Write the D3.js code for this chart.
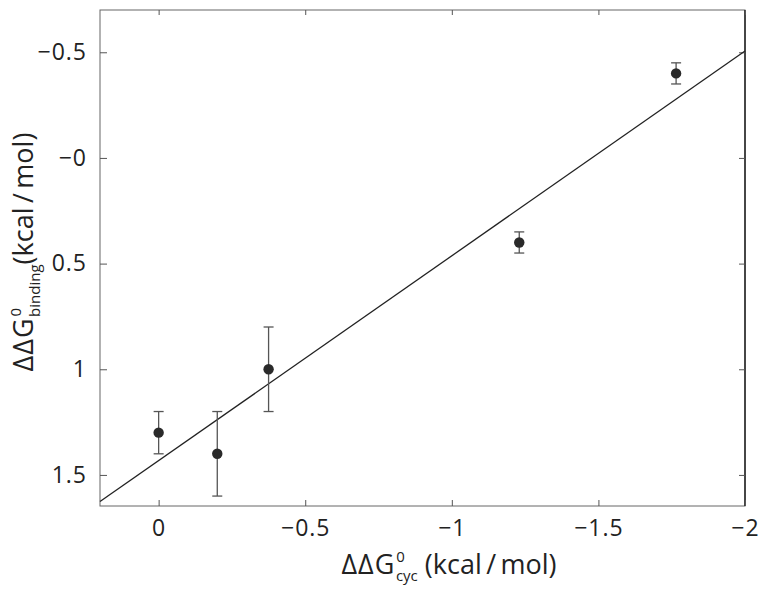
<!DOCTYPE html>
<html>
<head>
<meta charset="utf-8">
<script src="https://cdn.jsdelivr.net/npm/d3@7"></script>
<style>
  body { margin: 0; background: #fff; }
  text { font-family: "Open Sans", "DejaVu Sans", sans-serif; fill: #222; }
</style>
</head>
<body>
<div id="chart"></div>
<script>
// measured values
const xValues = [0, -0.2, -0.375, -1.23, -1.765];
const yValues = [1.3, 1.4, 1.0, 0.4, -0.4];
const yErrLow = [1.2, 1.2, 0.8, 0.35, -0.45];
const yErrHigh = [1.4, 1.6, 1.2, 0.45, -0.35];

// fitted line endpoints
const fitX = [0.2, -2];
const fitY = [1.626, -0.506];

const xTicks = [0, -0.5, -1, -1.5, -2];
const xTickLabels = ["0", "\u22120.5", "\u22121", "\u22121.5", "\u22122"];
const yTicks = [-0.5, 0, 0.5, 1, 1.5];
const yTickLabels = ["\u22120.5", "\u22120", "0.5", "1", "1.5"];

const width = 762, height = 597;
const margin = {left: 100, right: 17, top: 10, bottom: 91};
const plotW = width - margin.left - margin.right;
const plotH = height - margin.top - margin.bottom;

const svg = d3.select("#chart").append("svg")
    .attr("width", width)
    .attr("height", height);

const g = svg.append("g")
    .attr("transform", "translate(" + margin.left + "," + margin.top + ")");

const x = d3.scaleLinear().domain([0.2, -2]).range([0, plotW]);
const y = d3.scaleLinear().domain([-0.7, 1.647]).range([0, plotH]);

// frame with inward ticks on all sides
g.append("rect")
    .attr("width", plotW).attr("height", plotH)
    .attr("fill", "none").attr("stroke", "#666").attr("stroke-width", 1);
g.append("line")
    .attr("x1", plotW).attr("x2", plotW).attr("y1", 0).attr("y2", plotH)
    .attr("stroke", "#222").attr("stroke-width", 1.5);

const xAxis = g.append("g")
    .attr("transform", "translate(0," + plotH + ")")
    .call(d3.axisBottom(x).tickValues(xTicks).tickSize(-6).tickPadding(14)
        .tickFormat((d, i) => xTickLabels[i]))
    .call(a => a.select(".domain").remove());

const xTop = g.append("g")
    .call(d3.axisTop(x).tickValues(xTicks).tickSize(-5).tickFormat(""))
    .call(a => a.select(".domain").remove());

const yAxis = g.append("g")
    .call(d3.axisLeft(y).tickValues(yTicks).tickSize(-7).tickPadding(13)
        .tickFormat((d, i) => yTickLabels[i]))
    .call(a => a.select(".domain").remove());

const yRight = g.append("g")
    .attr("transform", "translate(" + plotW + ",0)")
    .call(d3.axisRight(y).tickValues(yTicks).tickSize(-6).tickFormat(""))
    .call(a => a.select(".domain").remove());

g.selectAll(".tick line").attr("stroke", "#555");
g.selectAll(".tick text")
    .style("font-size", "23px")
    .style("letter-spacing", "1px")
    .attr("fill", "#222");

// fit line
g.append("line")
    .attr("x1", x(fitX[0])).attr("y1", y(fitY[0]))
    .attr("x2", x(fitX[1])).attr("y2", y(fitY[1]))
    .attr("stroke", "#222").attr("stroke-width", 1.3);

// error bars
const pts = xValues.map((v, i) => ({x: v, y: yValues[i], lo: yErrLow[i], hi: yErrHigh[i]}));
const eb = g.append("g").attr("stroke", "#555").attr("stroke-width", 1.3);
eb.selectAll(".stem").data(pts).enter().append("line")
    .attr("x1", d => x(d.x)).attr("x2", d => x(d.x))
    .attr("y1", d => y(d.lo)).attr("y2", d => y(d.hi));
eb.selectAll(".capLo").data(pts).enter().append("line")
    .attr("x1", d => x(d.x) - 5).attr("x2", d => x(d.x) + 5)
    .attr("y1", d => y(d.lo)).attr("y2", d => y(d.lo));
eb.selectAll(".capHi").data(pts).enter().append("line")
    .attr("x1", d => x(d.x) - 5).attr("x2", d => x(d.x) + 5)
    .attr("y1", d => y(d.hi)).attr("y2", d => y(d.hi));

g.selectAll(".dot").data(pts).enter().append("circle")
    .attr("cx", d => x(d.x)).attr("cy", d => y(d.y))
    .attr("r", 5.2).attr("fill", "#2a2a2a");

// axis labels
const xl = svg.append("text")
    .attr("x", 449).attr("y", 574)
    .attr("text-anchor", "middle")
    .style("font-size", "27px");
xl.append("tspan").text("\u0394\u0394G").style("letter-spacing", "1px");
xl.append("tspan").text("0").style("font-size", "15px").attr("dy", -12).attr("dx", 1);
xl.append("tspan").text("cyc").style("font-size", "15px").attr("dx", -9).attr("dy", 19);
xl.append("tspan").text(" (kcal\u2009/\u2009mol)").attr("dy", -7);

const yl = svg.append("text")
    .attr("transform", "translate(33,252) rotate(-90)")
    .attr("text-anchor", "middle")
    .style("font-size", "27px");
yl.append("tspan").text("\u0394\u0394G").style("letter-spacing", "1px");
yl.append("tspan").text("0").style("font-size", "15px").attr("dy", -12).attr("dx", 1);
yl.append("tspan").text("binding").style("font-size", "15px").attr("dx", -9).attr("dy", 19);
yl.append("tspan").text("(kcal\u2009/\u2009mol)").attr("dy", -7);
</script>
</body>
</html>
